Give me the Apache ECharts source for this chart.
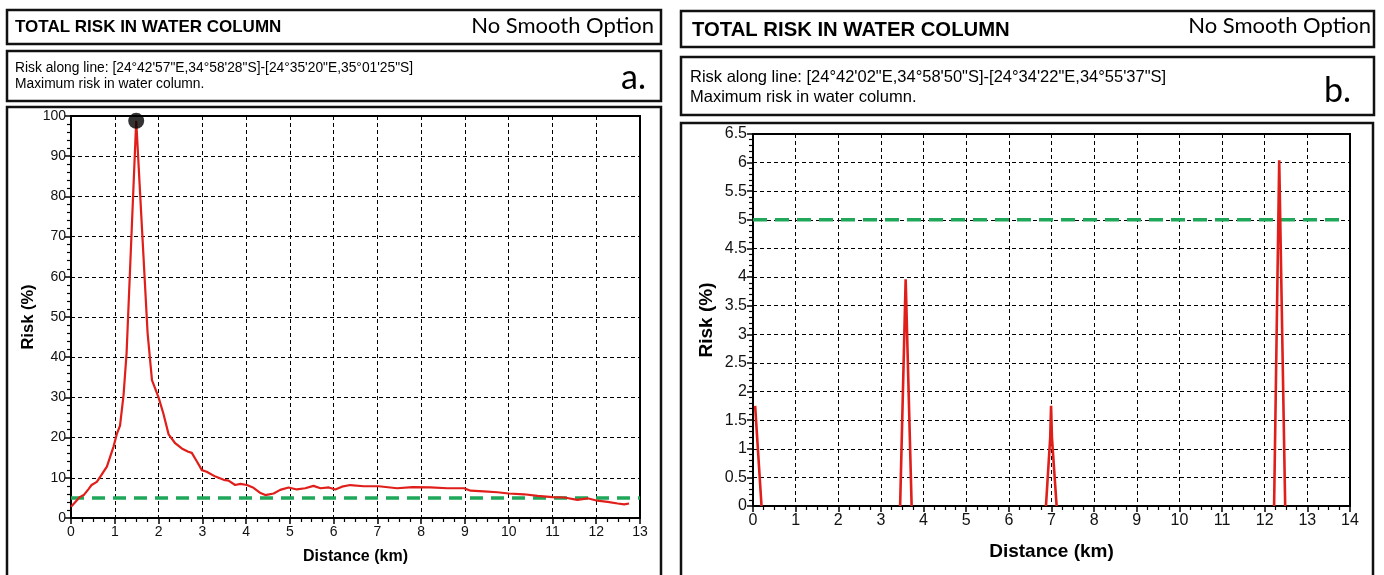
<!DOCTYPE html>
<html>
<head>
<meta charset="utf-8">
<script src="https://cdn.jsdelivr.net/npm/echarts@6/dist/echarts.min.js"></script>
<style>
html,body{margin:0;padding:0;background:#fff;}
#c{width:1384px;height:575px;}
</style>
</head>
<body>
<div id="c"></div>
<script>
// ---- Panel a data (distance km, risk %) ----
var distA = [0.00,0.10,0.20,0.30,0.40,0.47,0.59,0.70,0.82,0.97,1.05,1.12,1.20,1.27,1.49,1.75,1.85,2.00,2.11,2.23,2.38,2.53,2.68,2.76,2.88,2.99,3.10,3.30,3.49,3.60,3.75,3.87,4.02,4.17,4.33,4.44,4.63,4.78,4.97,5.16,5.35,5.54,5.70,5.89,6.04,6.19,6.38,6.69,7.03,7.45,7.80,8.21,8.60,8.98,9.13,9.43,9.74,10.00,10.35,10.66,11.00,11.27,11.57,11.80,12.03,12.26,12.49,12.64,12.75];
var riskA = [2.8,4.0,5.2,5.8,7.2,8.2,9.0,10.8,12.8,17.7,21.0,23.0,30.5,41.0,98.8,46.0,34.3,30.0,26.0,20.8,18.6,17.3,16.5,16.2,14.0,11.9,11.5,10.3,9.5,9.3,8.2,8.5,8.2,7.5,6.2,5.7,6.1,7.0,7.6,7.1,7.4,8.0,7.4,7.6,7.1,7.8,8.2,7.9,7.9,7.4,7.7,7.6,7.4,7.4,6.8,6.6,6.4,6.1,5.9,5.5,5.2,5.1,4.5,4.9,4.3,4.0,3.6,3.4,3.6];
var maxPointA = [1.49, 98.8];
var thresholdA = 5;
var xTicksA = {min:0, max:13, interval:1};
var yTicksA = {min:0, max:100, interval:10};

// ---- Panel b data (null = gap) ----
var distB = [0.05,0.20,0.20,3.45,3.58,3.72,3.72,6.87,6.97,6.99,7.01,7.12,7.12,12.22,12.34,12.48];
var riskB = [1.75,0.0,null,0.0,3.96,0.0,null,0.0,1.2,1.75,1.2,0.0,null,0.0,6.04,0.0];
var thresholdB = 5;
var thresholdEndB = 13.8;
var xTicksB = {min:0, max:14, interval:1};
var yTicksB = {min:0, max:6.5, interval:0.5};

// ---- Texts ----
var titleText = 'TOTAL RISK IN WATER COLUMN';
var optionText = 'No Smooth Option';
var subA1 = 'Risk along line: [24\u00b042\'57"E,34\u00b058\'28"S]-[24\u00b035\'20"E,35\u00b001\'25"S]';
var subB1 = 'Risk along line: [24\u00b042\'02"E,34\u00b058\'50"S]-[24\u00b034\'22"E,34\u00b055\'37"S]';
var sub2 = 'Maximum risk in water column.';
var xName = 'Distance (km)';
var yName = 'Risk (%)';

var RED = '#e01e1a', GREEN = '#1fa85a';

function zip(xs, ys){ return xs.map(function(x,i){ return [x, ys[i] === null ? null : ys[i]]; }); }

var chart = echarts.init(document.getElementById('c'), null, {renderer:'canvas'});

function axisCommon(fs, margin){
  return {
    axisLine:{show:true, onZero:false, lineStyle:{color:'#000', width:2}},
    axisTick:{show:true, length:6, lineStyle:{color:'#000', width:1.5}},
    minorTick:{show:true, splitNumber:4, length:4, lineStyle:{color:'#000', width:1.2}},
    splitLine:{show:true, lineStyle:{color:'#000', width:1, type:[4,3]}},
    axisLabel:{color:'#111', fontSize:fs, fontFamily:'Liberation Sans', margin:margin},
    nameTextStyle:{color:'#000', fontWeight:'bold', fontFamily:'Liberation Sans'}
  };
}

function mk(base, extra){ var o = JSON.parse(JSON.stringify(base)); for (var k in extra){ o[k]=extra[k]; } return o; }

var xa = mk(axisCommon(14, 7), {type:'value', gridIndex:0, min:xTicksA.min, max:xTicksA.max, interval:xTicksA.interval, name:xName, nameLocation:'middle', nameGap:31});
xa.nameTextStyle.fontSize = 16;
xa.minorTick.splitNumber = 4;
var ya = mk(axisCommon(14, 5), {type:'value', gridIndex:0, min:yTicksA.min, max:yTicksA.max, interval:yTicksA.interval, name:yName, nameLocation:'middle', nameGap:34});
ya.nameTextStyle.fontSize = 16.5;
ya.minorTick.splitNumber = 5;
var xb = mk(axisCommon(16, 7), {type:'value', gridIndex:1, min:xTicksB.min, max:xTicksB.max, interval:xTicksB.interval, name:xName, nameLocation:'middle', nameGap:36});
xb.nameTextStyle.fontSize = 19;
xb.minorTick.splitNumber = 4;
var yb = mk(axisCommon(16, 6), {type:'value', gridIndex:1, min:yTicksB.min, max:yTicksB.max, interval:yTicksB.interval, name:yName, nameLocation:'middle', nameGap:37});
yb.nameTextStyle.fontSize = 19;
yb.minorTick.splitNumber = 5;

function rect(x,y,w,h){ return {type:'rect', shape:{x:x,y:y,width:w,height:h}, style:{fill:'none', stroke:'#111', lineWidth:2.5}, z:10}; }
function txt(t,x,y,font,align,va){ return {type:'text', x:x, y:y, style:{text:t, font:font, fill:'#000', align:align||'left', verticalAlign:va||'middle'}, z:11}; }

var option = {
  backgroundColor:'#fff',
  animation:false,
  graphic:[
    rect(7,10,654,34), rect(7,51,654,50), rect(7,107,654,480),
    rect(681,11,693,36), rect(681,57,693,58), rect(681,123,692,470),
    txt(titleText,15,27,'bold 17px "Liberation Sans"'),
    txt(optionText,654,26,'22px Lato','right'),
    txt(subA1,15,68,'13.8px "Liberation Sans"'),
    txt(sub2,15,84,'13.8px "Liberation Sans"'),
    txt('a.',646,78,'34px Lato','right'),
    txt(titleText,692,30,'bold 20.3px "Liberation Sans"'),
    txt(optionText,1371,26,'22px Lato','right'),
    txt(subB1,690,77,'16.5px "Liberation Sans"'),
    txt(sub2,690,97,'16.5px "Liberation Sans"'),
    txt('b.',1351,91,'34px Lato','right')
  ],
  grid:[
    {left:71, top:116, width:569, height:402, show:true, borderColor:'#000', borderWidth:2, backgroundColor:'rgba(0,0,0,0)'},
    {left:753, top:134, width:597, height:372, show:true, borderColor:'#000', borderWidth:2, backgroundColor:'rgba(0,0,0,0)'}
  ],
  xAxis:[xa, xb],
  yAxis:[ya, yb],
  series:[
    {type:'line', xAxisIndex:0, yAxisIndex:0, data:[[xTicksA.min,thresholdA],[xTicksA.max,thresholdA]], symbol:'none', lineStyle:{color:GREEN, width:3.5, type:[13,8]}, z:3},
    {type:'line', xAxisIndex:0, yAxisIndex:0, data:zip(distA, riskA), symbol:'none', lineStyle:{color:RED, width:2.2}, z:4},
    {type:'scatter', xAxisIndex:0, yAxisIndex:0, data:[maxPointA], symbol:'circle', symbolSize:16, itemStyle:{color:'#000'}, clip:false, z:5},
    {type:'line', xAxisIndex:1, yAxisIndex:1, data:[[xTicksB.min,thresholdB],[thresholdEndB,thresholdB]], symbol:'none', lineStyle:{color:GREEN, width:3.5, type:[14,8]}, z:3},
    {type:'line', xAxisIndex:1, yAxisIndex:1, data:zip(distB, riskB), connectNulls:false, symbol:'none', lineStyle:{color:RED, width:2.6}, z:4}
  ]
};
chart.setOption(option);
</script>
</body>
</html>
